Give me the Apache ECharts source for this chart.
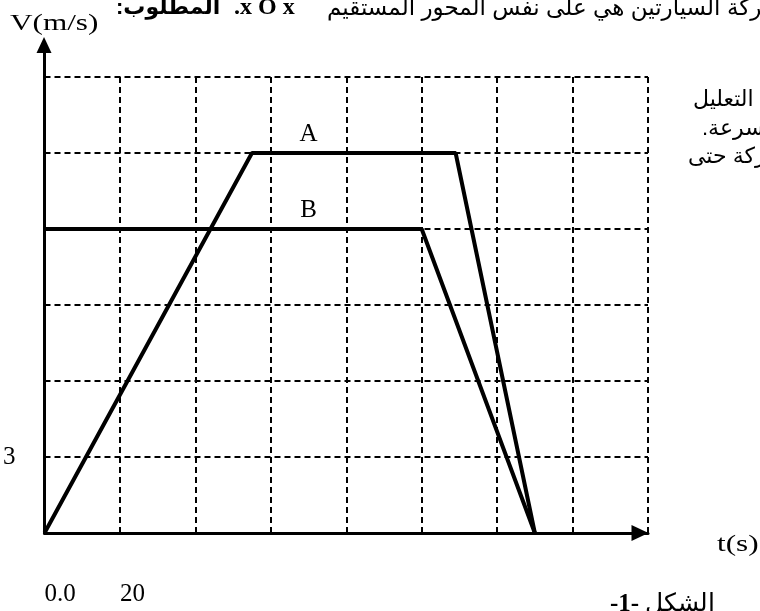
<!DOCTYPE html>
<html>
<head>
<meta charset="utf-8">
<script src="https://cdn.jsdelivr.net/npm/echarts@6/dist/echarts.min.js"></script>
<style>
  html, body { margin: 0; padding: 0; background: #fff; }
  #main { width: 760px; height: 611px; }
</style>
</head>
<body>
<div id="main"></div>
<script>
// car A: accelerate, cruise, brake
var tA = [0, 55, 109, 130];
var vA = [0, 15, 15, 0];
// car B: constant speed then brake
var tB = [0, 100, 130];
var vB = [12, 12, 0];
var seriesNames = ['A', 'B'];
// where the A / B names sit along the time axis
var nameAt = [70, 70];

// only a few ticks carry a label in the figure
var xTickValues = [0, 20];
var xTickLabels = ['0.0', '20'];
var yTickValues = [3];
var yTickLabels = ['3'];

var xName = 't(s)';
var yName = 'V(m/s)';

function pairs(xs, ys) {
    return xs.map(function (x, i) { return [x, ys[i]]; });
}

function tickLabel(values, labels) {
    return function (value) {
        var i = values.indexOf(value);
        return i >= 0 ? labels[i] : '';
    };
}

var chartDom = document.getElementById('main');
var myChart = echarts.init(chartDom, null, { renderer: 'canvas' });
var option;

var serif = '"Liberation Serif", "Times New Roman", serif';
var sans = '"Liberation Sans", "DejaVu Sans", Arial, sans-serif';
var dashed = { color: '#000', width: 2, type: [6, 4] };

function nameMark(coord, text) {
    return {
        symbol: 'circle',
        symbolSize: 1,
        itemStyle: { color: 'rgba(0,0,0,0)' },
        data: [{ coord: coord }],
        label: {
            show: true,
            formatter: text,
            position: 'top',
            distance: 6,
            color: '#000',
            fontSize: 25,
            fontFamily: serif
        }
    };
}

option = {
    animation: false,
    backgroundColor: '#fff',
    grid: [
        { left: 44, right: 112, top: 77, bottom: 78 },
        { left: 44, right: 112, top: 45, bottom: 78 }
    ],
    xAxis: [
        {
            type: 'value',
            gridIndex: 0,
            min: 0,
            max: 160,
            interval: 20,
            axisLine: {
                show: true,
                symbol: ['none', 'triangle'],
                symbolSize: [16, 17],
                symbolOffset: [0, -8],
                lineStyle: { color: '#000', width: 3 }
            },
            axisTick: { show: false },
            axisLabel: {
                formatter: tickLabel(xTickValues, xTickLabels),
                align: 'left',
                margin: 49,
                color: '#000',
                fontSize: 25,
                fontFamily: serif
            },
            splitLine: { show: true, lineStyle: dashed }
        },
        {
            type: 'value',
            gridIndex: 1,
            min: 0,
            max: 160,
            show: false
        }
    ],
    yAxis: [
        {
            type: 'value',
            gridIndex: 0,
            min: 0,
            max: 18,
            interval: 3,
            axisLine: { show: false },
            axisTick: { show: false },
            axisLabel: {
                formatter: tickLabel(yTickValues, yTickLabels),
                margin: 29,
                color: '#000',
                fontSize: 25,
                fontFamily: serif
            },
            splitLine: { show: true, lineStyle: dashed }
        },
        {
            type: 'value',
            gridIndex: 1,
            min: 0,
            max: 1,
            axisLine: {
                show: true,
                onZero: false,
                symbol: ['none', 'triangle'],
                symbolSize: [15, 16],
                lineStyle: { color: '#000', width: 3 }
            },
            axisTick: { show: false },
            axisLabel: { show: false },
            splitLine: { show: false }
        }
    ],
    series: [
        {
            name: seriesNames[0],
            type: 'line',
            data: pairs(tA, vA),
            symbol: 'none',
            lineStyle: { color: '#000', width: 4 },
            z: 5,
            markPoint: nameMark([nameAt[0], vA[1]], seriesNames[0])
        },
        {
            name: seriesNames[1],
            type: 'line',
            data: pairs(tB, vB),
            symbol: 'none',
            lineStyle: { color: '#000', width: 4 },
            z: 5,
            markPoint: nameMark([nameAt[1], vB[0]], seriesNames[1])
        }
    ],
    graphic: [
        // axis names (the scan is a little stretched sideways)
        { type: 'text', x: 10, y: 12, scaleX: 1.3, style: { text: yName, fill: '#000', font: '24px ' + serif } },
        { type: 'text', x: 717, y: 533, scaleX: 1.3, style: { text: xName, fill: '#000', font: '24px ' + serif } },
        // header line of the exercise, cut by the page edge
        { type: 'text', left: 327, top: -3, style: { text: 'حركة السيارتين هي على نفس المحور المستقيم', fill: '#000', font: '23px ' + sans } },
        { type: 'text', left: 234, top: -4, style: { text: '.x O x', fill: '#000', font: 'bold 24px ' + serif } },
        { type: 'text', left: 116, top: -3, style: { text: ':المطلوب', fill: '#000', font: 'bold 22px ' + sans } },
        // side text, cut on the right
        { type: 'text', left: 693, top: 89, style: { text: 'مع التعليل', fill: '#000', font: '22px ' + sans } },
        { type: 'text', left: 702, top: 118, style: { text: '.السرعة', fill: '#000', font: '22px ' + sans } },
        { type: 'text', left: 688, top: 146, style: { text: 'الحركة حتى', fill: '#000', font: '22px ' + sans } },
        // figure caption
        {
            type: 'text', left: 610, top: 592,
            style: {
                text: '{b|-1-} الشكل',
                fill: '#000',
                font: '25px ' + serif,
                rich: { b: { fontWeight: 'bold', fontSize: 25, fontFamily: serif } }
            }
        }
    ]
};

option && myChart.setOption(option);
</script>
</body>
</html>
